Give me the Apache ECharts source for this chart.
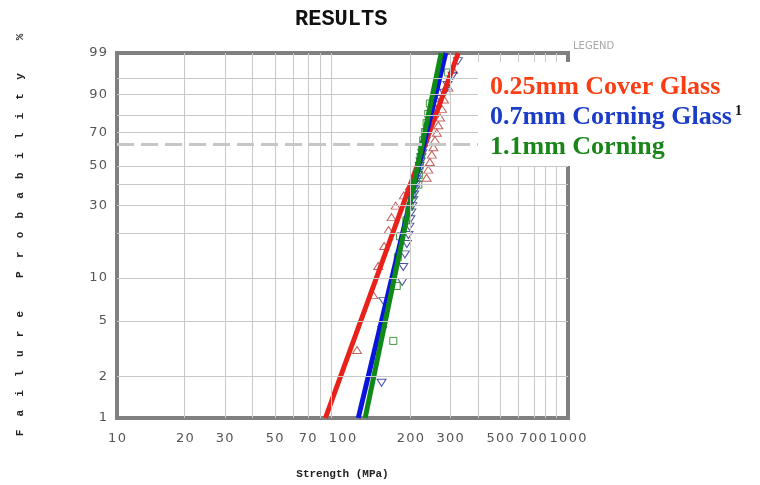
<!DOCTYPE html>
<html><head><meta charset="utf-8">
<script src="https://cdn.jsdelivr.net/npm/echarts@6/dist/echarts.min.js"></script>
<style>html,body{margin:0;padding:0;background:#fff}#c{width:760px;height:485px}</style>
</head><body><div id="c"></div>
<script>
// ---- data ----
const xTickLabels = [10, 20, 30, 50, 70, 100, 200, 300, 500, 700, 1000];
const yTickLabels = [1, 2, 5, 10, 30, 50, 70, 90, 99];
const xGridValues = [20, 30, 40, 50, 60, 70, 80, 90, 200, 300, 400, 500, 600, 700, 800, 900];
const yGridValues = [2, 5, 10, 20, 30, 40, 50, 70, 80, 90, 95];
const refProbability = 63.2;
const seriesNames = ['0.25mm Cover Glass', '0.7mm Corning Glass', '1.1mm Corning'];
const fitProbability = [1, 99];
const redFit = [84, 326];
const blueFit = [117.5, 287];
const greenFit = [126, 274];
const redStrength = [116, 137, 144, 153, 160, 165, 172, 187, 199, 236, 240, 244, 249, 253, 257, 262, 266, 271, 276, 282, 295, 309];
const redProb = [3.1, 7.6, 12.1, 16.5, 21.0, 25.4, 29.9, 34.4, 38.8, 43.3, 47.8, 52.2, 56.7, 61.2, 65.6, 70.1, 74.6, 79.0, 83.5, 87.9, 92.4, 96.9];
const blueStrength = [149, 150, 152, 184, 186, 189, 193, 196, 198, 200, 202, 204, 206, 208, 210, 212, 214, 216, 218, 220, 222, 224, 226, 228, 231, 234, 236, 238, 241, 245, 250, 256, 262, 265, 272, 282, 292, 308, 325];
const blueProb = [1.8, 4.3, 6.9, 9.4, 11.9, 14.5, 17.0, 19.5, 22.1, 24.6, 27.2, 29.7, 32.2, 34.8, 37.3, 39.8, 42.4, 44.9, 47.5, 50.0, 52.5, 55.1, 57.6, 60.2, 62.7, 65.2, 67.8, 70.3, 72.8, 75.4, 77.9, 80.5, 83.0, 85.5, 88.1, 90.6, 93.2, 95.7, 98.2];
const greenStrength = [168, 174, 176, 180, 192, 198, 204, 217, 218, 220, 222, 225, 228, 232, 236, 240, 244, 290, 294];
const greenProb = [3.6, 8.8, 13.9, 19.1, 24.2, 29.4, 34.5, 39.7, 44.8, 50.0, 55.2, 60.3, 65.5, 70.6, 75.8, 80.9, 86.1, 91.2, 96.4];

// ---- scale transforms (log strength, Weibull probability) ----
const X = s => Math.log10(s);
const Y = p => Math.log(-Math.log(1 - p / 100));
const invY = v => (1 - Math.exp(-Math.exp(v))) * 100;
const spaced = s => String(s).split('').join('\u200a');
const pts = (S, P) => S.map((s, i) => [X(s), Y(P[i])]);
const fitPts = F => F.map((s, i) => [X(s), Y(fitProbability[i])]);

const colors = {
  red: '#e8211a', blue: '#0a14dc', green: '#0f8a16',
  redMk: '#b83a3a', blueMk: '#1c2a8c', greenMk: '#1c7a1c',
  redTx: '#fa3d12', blueTx: '#1a3cc8', greenTx: '#1a861a'
};

const chart = echarts.init(document.getElementById('c'), null, {renderer: 'canvas'});
const hollow = c => ({color: 'rgba(0,0,0,0)', borderColor: c, borderWidth: 1});

chart.setOption({
  animation: false,
  backgroundColor: '#fff',
  title: {
    text: 'RESULTS', left: 290, top: 3,
    textStyle: {fontFamily: 'Liberation Mono', fontWeight: 'bold', fontSize: 22, color: '#111'}
  },
  grid: {left: 117, top: 53, width: 451, height: 368, show: true, borderColor: '#808080', borderWidth: 4, z: 1, backgroundColor: 'rgba(0,0,0,0)'},
  legend: {
    orient: 'vertical', left: 478, top: 62, z: 20,
    backgroundColor: '#fff', padding: [12, 8, 6, 7], itemGap: 4,
    icon: 'none', itemWidth: 0, itemHeight: 26,
    selectedMode: false,
    data: [
      {name: seriesNames[0], textStyle: {color: colors.redTx}},
      {name: seriesNames[1], textStyle: {color: colors.blueTx}},
      {name: seriesNames[2], textStyle: {color: colors.greenTx}}
    ],
    formatter: n => n === seriesNames[1] ? n + '{sup|1}' : n,
    textStyle: {
      fontFamily: 'Liberation Serif', fontWeight: 'bold', fontSize: 26,
      rich: {sup: {fontFamily: 'Liberation Serif', fontSize: 14, color: '#111', verticalAlign: 'top', padding: [0, 0, 12, 3]}}
    }
  },
  xAxis: {
    type: 'value', min: 1, max: 3,
    axisLine: {show: false}, axisTick: {show: false}, splitLine: {show: false},
    axisLabel: {
      customValues: xTickLabels.map(X),
      formatter: v => spaced(Math.round(Math.pow(10, v))),
      color: '#555', fontSize: 13, fontFamily: 'DejaVu Sans', margin: 14
    },
    name: 'Strength (MPa)', nameLocation: 'middle', nameGap: 51,
    nameTextStyle: {fontFamily: 'Liberation Mono', fontWeight: 'bold', fontSize: 11, color: '#222'}
  },
  yAxis: {
    type: 'value', min: Y(1), max: Y(99),
    axisLine: {show: false}, axisTick: {show: false}, splitLine: {show: false},
    axisLabel: {
      customValues: yTickLabels.map(Y),
      formatter: v => spaced(Math.round(invY(v))),
      color: '#555', fontSize: 13, fontFamily: 'DejaVu Sans', margin: 10
    }
  },
  graphic: [
    {
      type: 'text', x: 20, y: 235, rotation: Math.PI / 2, z: 10,
      style: {
        text: 'F  a  i  l  u  r  e     P  r  o  b  a  b  i  l  i  t  y     %',
        font: 'bold 11px "Liberation Mono"', fill: '#222', align: 'center', verticalAlign: 'middle'
      }
    },
    {
      type: 'text', x: 573, y: 41, z: 10,
      style: {text: 'LEGEND', font: '10px "DejaVu Sans"', fill: '#a8a8a8'}
    }
  ],
  series: [
    {
      type: 'line', data: [], z: 0, silent: true,
      markLine: {
        silent: true, symbol: ['none', 'none'], label: {show: false}, animation: false,
        lineStyle: {color: '#c8c8c8', width: 1, type: 'solid'},
        data: [
          ...xGridValues.map(v => ({xAxis: X(v)})),
          ...yGridValues.map(v => ({yAxis: Y(v)})),
          {yAxis: Y(refProbability), lineStyle: {color: '#c6c6c6', width: 3, type: [17, 7]}}
        ]
      }
    },
    {name: seriesNames[0], type: 'scatter', z: 3, data: pts(redStrength, redProb),
      symbol: 'triangle', symbolSize: [9, 7], itemStyle: hollow(colors.redMk)},
    {name: seriesNames[1], type: 'scatter', z: 3, data: pts(blueStrength, blueProb),
      symbol: 'triangle', symbolRotate: 180, symbolSize: [9, 7], itemStyle: hollow(colors.blueMk)},
    {name: seriesNames[2], type: 'scatter', z: 3, data: pts(greenStrength, greenProb),
      symbol: 'rect', symbolSize: 7, itemStyle: hollow(colors.greenMk)},
    {type: 'line', z: 4, data: fitPts(redFit), showSymbol: false, lineStyle: {color: colors.red, width: 5}},
    {type: 'line', z: 4, data: fitPts(blueFit), showSymbol: false, lineStyle: {color: colors.blue, width: 5}},
    {type: 'line', z: 4, data: fitPts(greenFit), showSymbol: false, lineStyle: {color: colors.green, width: 5}}
  ]
});
</script>
</body></html>
